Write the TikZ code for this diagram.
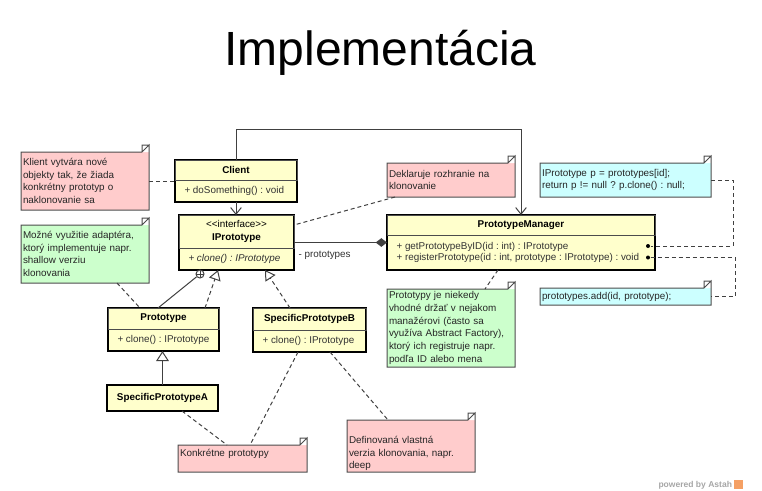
\documentclass[tikz,border=0pt]{standalone}
\usepackage{fontspec}
\setmainfont{Liberation Sans}
\usetikzlibrary{arrows.meta,calc}

\definecolor{classfill}{RGB}{255,255,204}
\definecolor{notepink}{RGB}{255,204,204}
\definecolor{notegreen}{RGB}{204,255,204}
\definecolor{noteblue}{RGB}{204,255,255}
\definecolor{astahorange}{RGB}{245,160,100}

\newcommand{\umlfont}{\fontsize{7.4}{9.5}\selectfont\frenchspacing}
% folded corner of a note
\newcommand{\notefold}[1]{%
  \fill[white] ([xshift=-5.25pt]#1.north east) -- (#1.north east) -- ([yshift=-5.25pt]#1.north east) -- cycle;
  \draw[notebd] ([xshift=-5.25pt]#1.north east) -- (#1.north west) -- (#1.south west) -- (#1.south east) -- ([yshift=-5.25pt]#1.north east) -- cycle
    ([xshift=-5.25pt]#1.north east) |- ([yshift=-5.25pt]#1.north east);}

\tikzset{every picture/.style={line width=0.75pt},
  classbox/.style={draw=black, line width=1.5pt, fill=classfill, inner sep=0, outer sep=0},
  classhead/.style={draw=black!70, line width=0.75pt, inner sep=0, outer sep=0, anchor=north, font=\umlfont\bfseries, align=center},
  member/.style={anchor=west, inner sep=0, font=\umlfont, text=black!80},
  note/.style={fill=#1, anchor=north west, inner xsep=1.5pt, inner ysep=1pt, outer sep=0, align=left, font=\umlfont, text=black!85},
  notebd/.style={draw=black!70, line width=0.75pt},
  notelink/.style={draw=black!75, dash pattern=on 3pt off 2.25pt},
  dep/.style={draw=black!75, -{Straight Barb[length=5pt,width=8pt]}},
  realize/.style={notelink, -{Triangle[open,length=7.5pt,width=9pt]}},
  general/.style={draw=black!75, -{Triangle[open,length=7.5pt,width=9.5pt]}},
  compose/.style={draw=black!75, -{Diamond[length=8.5pt,width=6.5pt]}},
  dot/.style={circle, fill=black, inner sep=0, minimum size=3pt},
  nestmark/.style={circle, draw=black!75, fill=white, inner sep=0, minimum size=6pt,
    path picture={\draw[black!75] (path picture bounding box.north) -- (path picture bounding box.south)
      (path picture bounding box.west) -- (path picture bounding box.east);}}
}

\begin{document}
\begin{tikzpicture}[x=0.75pt,y=0.75pt,yscale=-1,xscale=1]
	\useasboundingbox (0,0) rectangle (762,490);
	
	% Title
	\node[anchor=base, inner sep=0, font=\fontsize{36}{40}\selectfont] (title) at (380.5,65) {Implementácia};
	
	%Class Client
	\node[classbox, minimum width=91.5pt, minimum height=31.5pt] (client) at (236,181) {};
	\node[classhead, minimum width=91.5pt, minimum height=15pt] (clientname) at (client.north) {Client};
	\node[member] (clientops) at (184,191) {+ doSomething() : void};
	
	%Class IPrototype
	\node[classbox, minimum width=86.25pt, minimum height=41.25pt] (iproto) at (236.5,242.5) {};
	\node[classhead, minimum width=86.25pt, minimum height=24.75pt] (iprotoname) at (iproto.north) {{\mdseries <{}<interface>{}>}\\IPrototype};
	\node[member, font=\umlfont\itshape] (iprotoclone) at (188,258.5) {+ clone() : IPrototype};
	
	%Class PrototypeManager
	\node[classbox, minimum width=201pt, minimum height=41.25pt] (pm) at (521,242.5) {};
	\node[classhead, minimum width=201pt, minimum height=15pt] (pmname) at (pm.north) {PrototypeManager};
	\node[member] (pmget) at (396,246.5) {+ getPrototypeByID(id : int) : IPrototype};
	\node[member] (pmreg) at (396,257.5) {+ registerPrototype(id : int, prototype : IPrototype) : void};
	\node[dot] (getdot) at (648,246) {};
	\node[dot] (regdot) at (648,257.5) {};
	
	%Class Prototype
	\node[classbox, minimum width=83.25pt, minimum height=32.25pt] (proto) at (163.5,329.5) {};
	\node[classhead, minimum width=83.25pt, minimum height=15.75pt] (protoname) at (proto.north) {Prototype};
	\node[member] (protoclone) at (117,340) {+ clone() : IPrototype};
	
	%Class SpecificPrototypeB
	\node[classbox, minimum width=84.75pt, minimum height=33pt] (spb) at (309.5,330) {};
	\node[classhead, minimum width=84.75pt, minimum height=16.5pt] (spbname) at (spb.north) {SpecificPrototypeB};
	\node[member] (spbclone) at (262,341) {+ clone() : IPrototype};
	
	%Class SpecificPrototypeA
	\node[classbox, minimum width=83.25pt, minimum height=19.5pt, font=\umlfont\bfseries] (spa) at (162.5,398) {SpecificPrototypeA};
	
	%Notes
	\node[note=notepink, text width=93pt, minimum height=43.5pt] (notecli) at (21,152) {Klient vytvára nové\\objekty tak, že žiada\\konkrétny prototyp o\\naklonovanie sa};
	\notefold{notecli}
	\node[note=notegreen, text width=93pt, minimum height=43.5pt] (noteadapt) at (21,225) {Možné využitie adaptéra,\\ktorý implementuje napr.\\shallow verziu\\klonovania};
	\notefold{noteadapt}
	\node[note=notepink, text width=93pt, minimum height=25.5pt] (noteiface) at (387,163) {Deklaruje rozhranie na\\klonovanie};
	\notefold{noteiface}
	\node[note=noteblue, text width=125.25pt, minimum height=25.5pt] (noteget) at (540,163) {IPrototype p = prototypes[id];\\return p != null ? p.clone() : null;};
	\notefold{noteget}
	\node[note=noteblue, text width=125.25pt, minimum height=12.75pt] (noteadd) at (540,288) {prototypes.add(id, prototype);};
	\notefold{noteadd}
	\node[note=notegreen, text width=93pt, minimum height=58.5pt] (notemgr) at (387,289) {Prototypy je niekedy\\vhodné držať v nejakom\\manažérovi (často sa\\využíva Abstract Factory),\\ktorý ich registruje napr.\\podľa ID alebo mena};
	\notefold{notemgr}
	\node[note=notepink, text width=93.75pt, minimum height=20.25pt, text depth=8pt] (notekonk) at (178,445) {Konkrétne prototypy};
	\notefold{notekonk}
	\node[note=notepink, text width=93pt, minimum height=39pt, text depth=9pt] (notedef) at (347,420) {Definovaná vlastná\\verzia klonovania, napr.\\deep};
	\notefold{notedef}
	
	%Relations
	\draw[dep] (client.south) -- (client.south |- iproto.north);
	\draw[dep] (client.north) -- ++(0,-31) -| (pm.north);
	\draw[compose] (iproto.east) -- (pm.west) node[pos=0, anchor=north west, inner sep=0, xshift=3pt, yshift=-6pt, font=\umlfont, text=black!80] (protolabel) {- prototypes};
	\node[nestmark] (nest) at (200,274) {};
	\draw[draw=black!75] ($(proto.north)+(-5.5,0)$) -- (nest);
	\draw[realize] ($(proto.north)+(41.5,0)$) -- ($(iproto.south)+(-18.5,0)$);
	\draw[realize] ($(spb.north)+(-19.5,0)$) -- ($(iproto.south)+(28.5,0)$);
	\draw[general] (spa.north) -- (spa.north |- proto.south);
	
	%Note links
	\draw[notelink] (notecli.east) -- (client.west);
	\draw[notelink] ($(noteiface.south west)+(8,0)$) -- ($(iproto.north east)+(0,10)$);
	\draw[notelink] ($(noteadapt.south west)+(96,0)$) -- ($(proto.north west)+(32,0)$);
	\draw[notelink] ($(pm.south)+(-23,0)$) -- ($(notemgr.north west)+(98,0)$);
	\draw[notelink] (noteget.east) -- ++(22,0) |- (getdot);
	\draw[notelink] (regdot) -- ++(87,0) |- (noteadd.east);
	\draw[notelink] ($(spa.south)+(19.5,0)$) -- ($(notekonk.north west)+(49,0)$);
	\draw[notelink] ($(spb.south)+(-11.5,0)$) -- ($(notekonk.north west)+(72,0)$);
	\draw[notelink] ($(spb.south)+(20.5,0)$) -- ($(notedef.north west)+(41,0)$);
	
	% Footer
	\node[anchor=base west, inner sep=0, font=\fontsize{6.4}{7}\selectfont\bfseries, text=black!35] (powered) at (658,487) {powered by Astah};
	\node[anchor=west, fill=astahorange, minimum size=7pt, inner sep=0] (astahlogo) at ([xshift=0.5pt]powered.east) {};
	
\end{tikzpicture}
\end{document}
